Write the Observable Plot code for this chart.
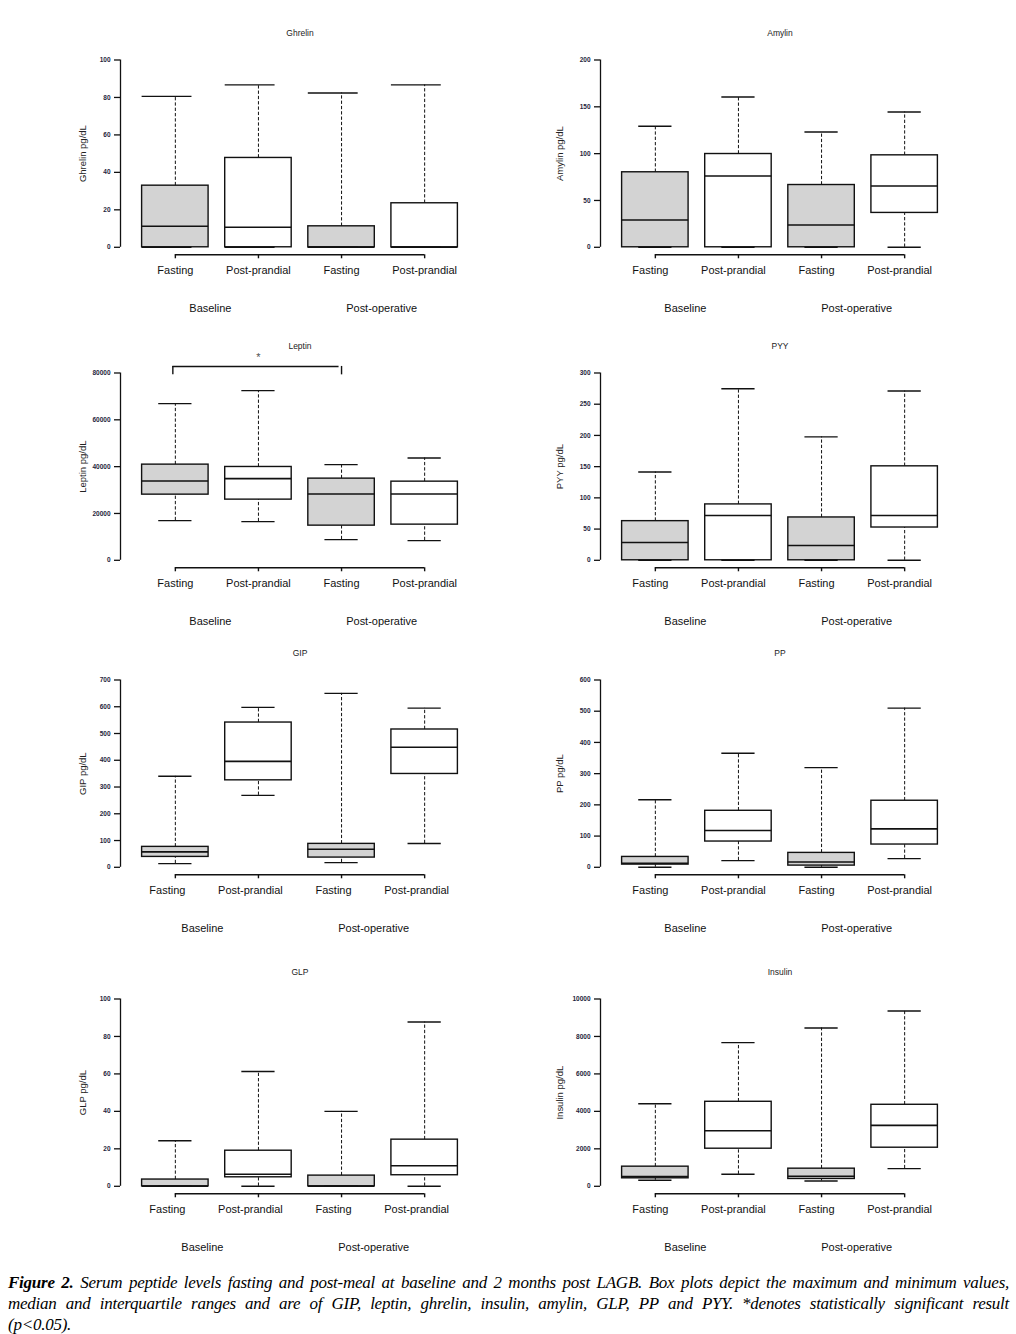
<!DOCTYPE html>
<html>
<head>
<meta charset="utf-8">
<script src="https://cdn.jsdelivr.net/npm/d3@7"></script>
<script src="https://cdn.jsdelivr.net/npm/@observablehq/plot@0.6"></script>
<style>
  html, body { margin: 0; padding: 0; background: #fff; }
  body { width: 1016px; height: 1334px; position: relative; overflow: hidden; }
  .panel { position: absolute; }
  #caption { position: absolute; left: 8px; width: 1001px; top: 1272px;
    font-family: "Liberation Serif", "Times New Roman", serif; font-style: italic;
    font-size: 17px; letter-spacing: -0.25px; line-height: 21px; color: #000; }
  #caption .ln { text-align: justify; text-align-last: justify; white-space: nowrap; }
  #caption .last { text-align: left; text-align-last: left; }
</style>
</head>
<body>
<div id="caption">
  <div class="ln"><b>Figure 2.</b> Serum peptide levels fasting and post-meal at baseline and 2 months post LAGB. Box plots depict the maximum and minimum values,</div>
  <div class="ln">median and interquartile ranges and are of GIP, leptin, ghrelin, insulin, amylin, GLP, PP and PYY. *denotes statistically significant result</div>
  <div class="last">(p&lt;0.05).</div>
</div>
<script>
// ---------- data ----------
const conditions = ["Fasting", "Post-prandial", "Fasting", "Post-prandial"];
const groups = ["Baseline", "Baseline", "Post-operative", "Post-operative"];
const groupNames = ["Baseline", "Post-operative"];

// each box: [min, q1, median, q3, max]
const ghrelin = [[0, 0, 11.2, 32.9, 80.6], [0, 0, 10.7, 47.7, 86.7], [0, 0, 0, 11.2, 82.4], [0, 0, 0, 23.5, 86.7]];
const amylin = [[0, 0, 29.2, 80.1, 129.2], [0, 0, 76.2, 99.6, 160.5], [0, 0, 23.8, 66.5, 123.1], [0, 36.7, 65.5, 98.2, 144.5]];
const leptin = [[16940, 28040, 33880, 40860, 66900], [16510, 25910, 34880, 39860, 72460], [8830, 14800, 28330, 34880, 40860], [8400, 15230, 28330, 33590, 43700]];
const pyy = [[0, 0, 28.4, 62.7, 141.4], [0, 0, 71.8, 89.5, 274.8], [0, 0, 23.6, 68.6, 197.7], [0, 52.5, 71.8, 150.5, 271.1]];
const gip = [[13.8, 38.8, 57.5, 76.3, 340], [268.8, 325, 396, 541, 597.5], [17.5, 36.3, 67.5, 87.5, 650], [88.8, 348.8, 448.8, 515, 595]];
const pp = [[0, 8.6, 12.9, 33.2, 216.4], [21.4, 82.5, 117.9, 181, 365.4], [0, 5.4, 17.1, 46.1, 319.3], [27.9, 72.9, 123.2, 213.2, 510]];
const glp = [[0, 0, 0, 3.6, 24.3], [0, 4.8, 6.4, 19.0, 61.3], [0, 0, 0, 5.7, 40], [0, 5.9, 11.0, 24.9, 87.7]];
const insulin = [[320, 426, 515, 1048, 4405], [639, 2007, 2966, 4512, 7673], [284, 391, 533, 941, 8455], [941, 2060, 3250, 4352, 9361]];

const panelTitles = ["Ghrelin", "Amylin", "Leptin", "PYY", "GIP", "PP", "GLP", "Insulin"];
const yLabels = ["Ghrelin pg/dL", "Amylin pg/dL", "Leptin pg/dL", "PYY pg/dL", "GIP pg/dL", "PP pg/dL", "GLP pg/dL", "Insulin pg/dL"];
const yMaxima = [100, 200, 80000, 300, 700, 600, 100, 10000];
const yTickSteps = [20, 50, 20000, 50, 100, 100, 20, 2000];
const panelData = [ghrelin, amylin, leptin, pyy, gip, pp, glp, insulin];

// significance brackets (indexes into conditions)
const leptinSignificance = [{from: 0, to: 2, label: "*"}];
const significance = {Leptin: leptinSignificance};

// ---------- layout / style ----------
const rowTops = [59.3, 372.7, 679.3, 998.7];   // pixel y of the top tick
const plotSpan = 187.3;                         // pixels from 0 to max tick
const marginTop = 40, marginBottom = 70, marginLeft = 120, marginRight = 1;
const panelWidth = 480;
const frameH = plotSpan * 1.08;
const svgH = marginTop + frameH + marginBottom;
const ink = "#111";
const tickInk = "#1e1e3c";
const font = "'Liberation Sans', Arial, sans-serif";
const groupDx = [-6.5, -1.5];

panelTitles.forEach((title, p) => {
  const col = p % 2, row = Math.floor(p / 2);
  const yMax = yMaxima[p], step = yTickSteps[p];
  const rows = panelData[p].map((v, i) => ({
    pos: i + 1, cond: conditions[i], group: groups[i],
    min: v[0], q1: v[1], med: v[2], q3: v[3], max: v[4]
  }));
  const yLo = -0.04 * yMax, yHi = 1.04 * yMax;
  const xLo = 0.34, xHi = 4.66;
  const yTicks = d3.range(0, yMax + step / 2, step);
  const capLeft = title === "Ghrelin" ? 0.4 : 0.2;
  const labelShift = col === 1 ? -5 : (row >= 2 ? -8 : 0);
  const yLabelDx = col === 1 ? -41 : -37.5;

  const marks = [
    // y axis line (only across the tick range) and ticks
    Plot.ruleX([xLo], {y1: 0, y2: yMax, stroke: ink, strokeWidth: 1.3}),
    Plot.axisY(yTicks, {anchor: "left", tickSize: 6, tickPadding: 4, fontSize: 6.5,
      fontWeight: "bold", fill: tickInk, stroke: ink, strokeWidth: 1.3, label: null,
      tickFormat: d => String(d)}),
    // x axis line and ticks
    Plot.ruleY([yLo], {x1: 1, x2: rows.length, stroke: ink, strokeWidth: 1.4}),
    Plot.axisX(rows.map(r => r.pos), {anchor: "bottom", tickSize: 4, tickPadding: 0,
      tickFormat: () => "", stroke: ink, strokeWidth: 1.4, label: null}),
    Plot.text(rows, {x: "pos", text: "cond", frameAnchor: "bottom", lineAnchor: "middle",
      dy: 16, dx: labelShift, fontSize: 11, fill: ink}),
    // whiskers
    Plot.ruleX(rows, {x: "pos", y1: "q3", y2: "max", stroke: ink, strokeWidth: 1, strokeDasharray: "3.3,2"}),
    Plot.ruleX(rows, {x: "pos", y1: "min", y2: "q1", stroke: ink, strokeWidth: 1, strokeDasharray: "3.3,2"}),
    // boxes
    Plot.rect(rows, {x1: d => d.pos - 0.4, x2: d => d.pos + 0.4, y1: "q1", y2: "q3",
      fill: d => d.cond === "Fasting" ? "#d3d3d3" : "#ffffff", stroke: ink, strokeWidth: 1.4}),
    Plot.ruleY(rows, {y: "med", x1: d => d.pos - 0.4, x2: d => d.pos + 0.4, stroke: ink, strokeWidth: 1.6}),
    // staples
    Plot.ruleY(rows, {y: "max", x1: d => d.pos - capLeft, x2: d => d.pos + 0.2, stroke: ink, strokeWidth: 1.4}),
    Plot.ruleY(rows, {y: "min", x1: d => d.pos - capLeft, x2: d => d.pos + 0.2, stroke: ink, strokeWidth: 1.4}),
    // title and y label
    Plot.text([title], {frameAnchor: "top", lineAnchor: "middle", dy: -19, fontSize: 8.5, fill: "#222"}),
    Plot.text([yLabels[p]], {frameAnchor: "left", textAnchor: "middle", lineAnchor: "middle",
      rotate: -90, dx: yLabelDx, fontSize: 9.5, fill: "#222"})
  ];

  // group labels below the condition labels
  groupNames.forEach((g, gi) => {
    const gx = d3.mean(rows.filter(r => r.group === g), r => r.pos);
    marks.push(Plot.text([g], {x: () => gx, text: d => d, frameAnchor: "bottom", lineAnchor: "middle",
      dy: 54, dx: groupDx[gi] + labelShift, fontSize: 11, fill: ink}));
  });

  const sig = significance[title];
  if (sig) {
    const yb = yMax * 1.035, yl = yMax * 0.99;
    marks.push(
      Plot.ruleY(sig, {y: () => yb, x1: d => d.from + 1, x2: d => d.to + 1, dx: -2.5, stroke: ink, strokeWidth: 1.4}),
      Plot.ruleX(sig, {x: d => d.from + 1, y1: () => yl, y2: () => yb, dx: -2.5, stroke: ink, strokeWidth: 1.4}),
      Plot.ruleX(sig, {x: d => d.to + 1, y1: () => yl, y2: () => yb, stroke: ink, strokeWidth: 1.4}),
      Plot.text(sig, {x: d => (d.from + d.to) / 2 + 1, y: () => yMax * 1.083, text: "label",
        fontSize: 11, fill: "#555"})
    );
  }

  const chart = Plot.plot({
    width: panelWidth, height: svgH,
    marginTop, marginBottom, marginLeft, marginRight,
    x: {domain: [xLo, xHi]},
    y: {domain: [yLo, yHi]},
    style: {fontFamily: font, background: "transparent", overflow: "visible"},
    marks
  });
  const div = document.createElement("div");
  div.className = "panel";
  div.style.left = (col * panelWidth) + "px";
  div.style.top = (rowTops[row] - plotSpan * 0.04 - marginTop) + "px";
  div.appendChild(chart);
  document.body.appendChild(div);
});
</script>
</body>
</html>
